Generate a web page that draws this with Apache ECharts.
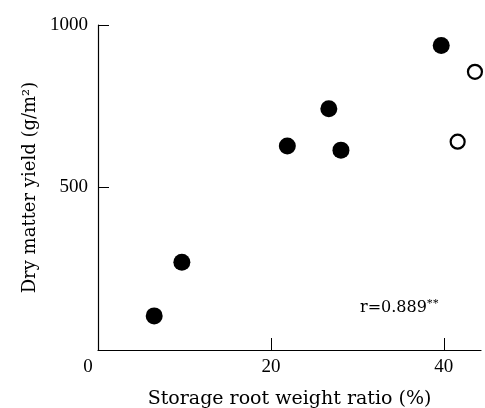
<!DOCTYPE html>
<html>
<head>
<meta charset="utf-8">
<script src="https://cdn.jsdelivr.net/npm/echarts@6/dist/echarts.min.js"></script>
<style>
  html, body { margin: 0; padding: 0; background: #fff; }
  #chart { width: 485px; height: 408px; }
</style>
</head>
<body>
<div id="chart"></div>
<script>
// filled circles
const ratioFilled = [6.5, 9.7, 21.9, 26.7, 28.1, 39.7]
const yieldFilled = [105, 270, 628, 742, 615, 937]
// open circles
const ratioOpen = [41.6, 43.6]
const yieldOpen = [641, 856]

const xTicks = [0, 20, 40]
const yTicks = [500, 1000]

const serif = '"Liberation Serif", "DejaVu Serif", serif'
const ink = '#000'

main()

function main() {
  const chart = echarts.init(document.getElementById('chart'))

  const option = {
    backgroundColor: '#fff',
    animation: false,
    grid: {
      left: 98,
      top: 25,
      right: 4,
      bottom: 58,
      outerBoundsMode: 'none',
      containLabel: false
    },
    xAxis: {
      type: 'value',
      min: 0,
      max: 44.3,
      interval: 20,
      name: 'Storage root weight ratio (%)',
      nameLocation: 'middle',
      nameGap: 40,
      nameTextStyle: { fontFamily: '"DejaVu Serif", serif', fontSize: 19, color: ink },
      axisLine: { lineStyle: { color: ink, width: 1.2 } },
      axisTick: { inside: true, length: 12, lineStyle: { color: ink }, customValues: [20, 40] },
      axisLabel: {
        customValues: xTicks,
        margin: 8,
        fontFamily: serif,
        fontSize: 19,
        color: ink,
        formatter: v => v === 0 ? '{z|0}' : String(v),
        rich: { z: { fontFamily: serif, fontSize: 19, color: ink, padding: [0, 20, 0, 0] } }
      },
      splitLine: { show: false }
    },
    yAxis: {
      type: 'value',
      min: 0,
      max: 1000,
      interval: 500,
      name: 'Dry matter yield (g/m²)',
      nameLocation: 'middle',
      nameRotate: 90,
      nameGap: 58,
      nameTextStyle: { fontFamily: '"DejaVu Serif", serif', fontSize: 18, color: ink },
      axisLine: { lineStyle: { color: ink, width: 1.2 } },
      axisTick: { inside: true, length: 11, lineStyle: { color: ink }, customValues: yTicks },
      axisLabel: {
        customValues: yTicks,
        margin: 10,
        fontFamily: serif,
        fontSize: 19,
        color: ink,
        formatter: v => String(v)
      },
      splitLine: { show: false }
    },
    graphic: [
      {
        type: 'text',
        left: 360,
        top: 298,
        style: {
          text: '{a|r=0.889}{s|**}',
          rich: {
            a: { fontFamily: '"DejaVu Serif", serif', fontSize: 16, fill: ink },
            s: { fontFamily: serif, fontSize: 12, fill: ink, verticalAlign: 'top', padding: [0, 0, 8, 0] }
          }
        }
      }
    ],
    series: [
      {
        name: 'filled',
        type: 'scatter',
        symbol: 'circle',
        symbolSize: 17,
        itemStyle: { color: ink, opacity: 1 },
        data: ratioFilled.map((x, i) => [x, yieldFilled[i]])
      },
      {
        name: 'open',
        type: 'scatter',
        symbol: 'circle',
        symbolSize: 14,
        itemStyle: { color: '#fff', borderColor: ink, borderWidth: 2.2, opacity: 1 },
        data: ratioOpen.map((x, i) => [x, yieldOpen[i]])
      }
    ]
  }
  chart.setOption(option)
}
</script>
</body>
</html>
